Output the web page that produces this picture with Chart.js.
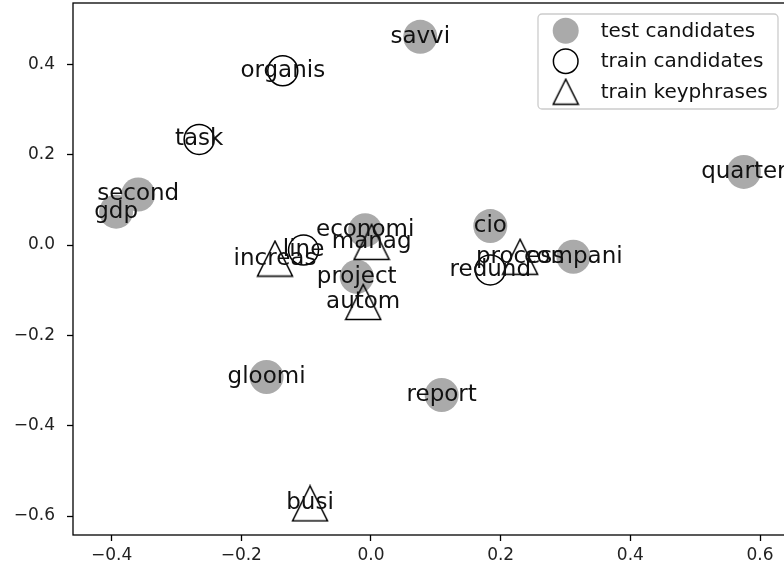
<!DOCTYPE html>
<html>
<head>
<meta charset="utf-8">
<script src="https://cdn.jsdelivr.net/npm/chart.js@4/dist/chart.umd.min.js"></script>
<style>
  html, body { margin: 0; padding: 0; background: #fff; overflow: hidden; }
  #wrap { position: absolute; left: 0; top: 0; width: 810px; height: 572px; }
</style>
</head>
<body>
<div id="wrap"><canvas id="chart" width="810" height="572"></canvas></div>
<script>
// Daten
const testWords = ['savvi', 'quarter', 'cio', 'compani', 'second', 'gdp', 'economi', 'project', 'gloomi', 'report'];
const testX = [0.076, 0.575, 0.184, 0.312, -0.359, -0.393, -0.009, -0.022, -0.161, 0.109];
const testY = [0.461, 0.162, 0.042, -0.026, 0.112, 0.074, 0.033, -0.070, -0.292, -0.332];

const trainWords = ['organis', 'task', 'line', 'redund'];
const trainX = [-0.136, -0.265, -0.104, 0.184];
const trainY = [0.386, 0.234, -0.011, -0.055];

const keyWords = ['increas', 'manag', 'autom', 'busi', 'process'];
const keyX = [-0.148, 0.001, -0.012, -0.094, 0.230];
const keyY = [-0.030, 0.007, -0.126, -0.572, -0.026];

const xTicks = [-0.4, -0.2, 0.0, 0.2, 0.4, 0.6];
const yTicks = [-0.6, -0.4, -0.2, 0.0, 0.2, 0.4];

const seriesNames = ['test candidates', 'train candidates', 'train keyphrases'];

const FONT = '"DejaVu Sans", sans-serif';
const GREY = '#aaaaaa';

// Dreieck wie matplotlib '^' (Breite = Höhe)
function makeTriangle(size, lw) {
  const c = document.createElement('canvas');
  c.width = size; c.height = size;
  const g = c.getContext('2d');
  const h = size / 2 - lw;
  g.lineWidth = lw;
  g.strokeStyle = '#000';
  g.lineJoin = 'miter';
  g.beginPath();
  g.moveTo(size / 2, size / 2 - h);
  g.lineTo(size / 2 - h, size / 2 + h);
  g.lineTo(size / 2 + h, size / 2 + h);
  g.closePath();
  g.stroke();
  return c;
}
const triBig = makeTriangle(38, 1.5);
const triSmall = makeTriangle(28, 1.5);

const toPoints = (xs, ys) => xs.map((x, i) => ({ x, y: ys[i] }));
const fmt = v => (v < 0 ? '\u2212' : '') + Math.abs(v).toFixed(1);

// Wörter neben die Punkte schreiben
const wordLabels = {
  id: 'wordLabels',
  afterDatasetsDraw(chart) {
    const ctx = chart.ctx;
    ctx.save();
    ctx.font = '23px ' + FONT;
    ctx.fillStyle = '#111';
    ctx.textAlign = 'center';
    ctx.textBaseline = 'alphabetic';
    chart.data.datasets.forEach((ds, i) => {
      const meta = chart.getDatasetMeta(i);
      meta.data.forEach((pt, j) => {
        ctx.fillText(ds.words[j], pt.x, pt.y + 6);
      });
    });
    ctx.restore();
  }
};

// Rahmen + Legende
const frameAndLegend = {
  id: 'frameAndLegend',
  afterDraw(chart) {
    const ctx = chart.ctx;
    const a = chart.chartArea;
    ctx.save();
    ctx.strokeStyle = '#000';
    ctx.lineWidth = 1.3;
    ctx.strokeRect(a.left, a.top, a.right - a.left, a.bottom - a.top);

    // Legende
    const bx = 538, by = 14, bw = 240, bh = 95;
    ctx.beginPath();
    ctx.roundRect(bx, by, bw, bh, 4);
    ctx.fillStyle = 'rgba(255,255,255,0.8)';
    ctx.fill();
    ctx.strokeStyle = '#cccccc';
    ctx.lineWidth = 1.3;
    ctx.stroke();

    const rows = [30.7, 61.2, 91.7];
    const mx = 565.7;
    ctx.font = '20px ' + FONT;
    ctx.textAlign = 'left';
    ctx.textBaseline = 'alphabetic';
    chart.data.datasets.forEach((ds, i) => {
      const y = rows[i];
      if (ds.legendKind === 'filled') {
        ctx.beginPath();
        ctx.arc(mx, y, 13, 0, Math.PI * 2);
        ctx.fillStyle = GREY;
        ctx.fill();
      } else if (ds.legendKind === 'open') {
        ctx.beginPath();
        ctx.arc(mx, y, 12.3, 0, Math.PI * 2);
        ctx.strokeStyle = '#000';
        ctx.lineWidth = 1.5;
        ctx.stroke();
      } else {
        ctx.drawImage(triSmall, mx - 14, y - 14);
      }
      ctx.fillStyle = '#111';
      ctx.fillText(ds.label, 600.7, y + 6);
    });
    ctx.restore();
  }
};

new Chart(document.getElementById('chart'), {
  type: 'scatter',
  data: {
    datasets: [
      {
        label: seriesNames[0],
        words: testWords,
        legendKind: 'filled',
        data: toPoints(testX, testY),
        pointStyle: 'circle',
        pointRadius: 17,
        pointHoverRadius: 17,
        pointBackgroundColor: GREY,
        pointBorderColor: GREY,
        pointBorderWidth: 0,
        order: 3
      },
      {
        label: seriesNames[1],
        words: trainWords,
        legendKind: 'open',
        data: toPoints(trainX, trainY),
        pointStyle: 'circle',
        pointRadius: 15,
        pointHoverRadius: 15,
        pointBackgroundColor: 'rgba(0,0,0,0)',
        pointBorderColor: '#000',
        pointBorderWidth: 1.5,
        order: 2
      },
      {
        label: seriesNames[2],
        words: keyWords,
        legendKind: 'triangle',
        data: toPoints(keyX, keyY),
        pointStyle: triBig,
        pointRadius: 19,
        pointHoverRadius: 19,
        order: 1
      }
    ]
  },
  options: {
    responsive: false,
    animation: false,
    events: [],
    layout: { autoPadding: false, padding: { top: 3, right: 10, left: 0, bottom: 0 } },
    plugins: {
      legend: { display: false },
      tooltip: { enabled: false }
    },
    scales: {
      x: {
        type: 'linear',
        min: -0.4595,
        max: 0.6616,
        afterFit: s => {
          s.height = 37;
          s.paddingLeft = 0; s.paddingRight = 0; s.paddingTop = 0; s.paddingBottom = 0;
        },
        afterBuildTicks: s => { s.ticks = xTicks.map(v => ({ value: v })); },
        grid: { drawOnChartArea: false, drawTicks: true, tickLength: 6, tickColor: '#000', tickWidth: 1.3 },
        border: { display: false },
        ticks: {
          color: '#222',
          font: { family: FONT, size: 17 },
          padding: 4,
          maxRotation: 0,
          autoSkip: false,
          callback: v => fmt(v)
        }
      },
      y: {
        type: 'linear',
        min: -0.642,
        max: 0.536,
        afterFit: s => {
          s.width = 73;
          s.paddingLeft = 0; s.paddingRight = 0; s.paddingTop = 0; s.paddingBottom = 0;
        },
        afterBuildTicks: s => { s.ticks = yTicks.map(v => ({ value: v })); },
        grid: { drawOnChartArea: false, drawTicks: true, tickLength: 6, tickColor: '#000', tickWidth: 1.3 },
        border: { display: false },
        ticks: {
          color: '#222',
          font: { family: FONT, size: 17 },
          padding: 12,
          autoSkip: false,
          callback: v => fmt(v)
        }
      }
    }
  },
  plugins: [wordLabels, frameAndLegend]
});
</script>
</body>
</html>
